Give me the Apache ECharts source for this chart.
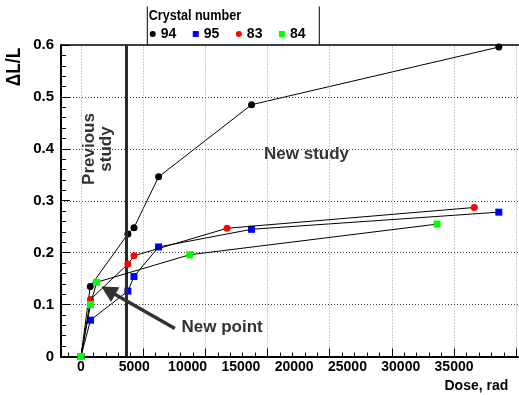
<!DOCTYPE html>
<html>
<head>
<meta charset="utf-8">
<script src="https://cdn.jsdelivr.net/npm/echarts@6/dist/echarts.min.js"></script>
<style>
html,body{margin:0;padding:0;background:#fff;}
#chart{width:519px;height:395px;}
</style>
</head>
<body>
<div id="chart"></div>
<script>
// ---- data ----
const crystals = ['94', '95', '83', '84'];
const dose94 = [0, 870, 4400, 4970, 7280, 16000, 39200];
const dl94   = [0, 0.135, 0.236, 0.248, 0.346, 0.485, 0.596];
const dose95 = [0, 890, 4400, 4970, 7280, 16000, 39200];
const dl95   = [0, 0.070, 0.126, 0.154, 0.211, 0.245, 0.278];
const dose83 = [0, 890, 4400, 4970, 13700, 36900];
const dl83   = [0, 0.110, 0.178, 0.194, 0.247, 0.287];
const dose84 = [0, 890, 1470, 10200, 33400];
const dl84   = [0, 0.100, 0.143, 0.196, 0.255];
const previousStudyDose = 4220;
const arrowTail = [8810, 0.054];
const arrowHead = [2560, 0.127];
// axis scales / ticks
const xLabelStep = 5000, xLabelMax = 35000;
const yTickStep = 0.1, yMin = 0, yMax = 0.6;
const yMinorPerMajor = 5;
const xMin = -1875, xMax = 41000;
const xGridStep = 35000 / 6;        // primary divisions of the frame (grid + long ticks)
const xMinorPerMajor = 5;
const xGridCount = 7;

// ---- layout ----
const FRAME = { left: 61, top: 45, right: 518, bottom: 356.5 };
const plotW = FRAME.right - FRAME.left, plotH = FRAME.bottom - FRAME.top;
const pxPerUnit = plotW / (xMax - xMin);
const xPx = v => FRAME.left + (v - xMin) * pxPerUnit;
const xUnitsPerPx = (xMax - xMin) / plotW;
const yUnitsPerPx = (yMax - yMin) / plotH;
const FONT = '"Liberation Sans", Arial, Helvetica, sans-serif';
const FONT_NAME = 'Liberation Sans';

function gridFor(v0, v1) {
  return { left: xPx(v0), top: FRAME.top, width: xPx(v1) - xPx(v0),
           height: FRAME.bottom - FRAME.top, containLabel: false, outerBoundsMode: 'none' };
}
const pairs = (xs, ys) => xs.map((x, i) => [x, ys[i]]);
const off = () => ({ show: false });

const seriesDefs = [
  { name: crystals[0], xs: dose94, ys: dl94, symbol: 'circle', color: '#000000' },
  { name: crystals[1], xs: dose95, ys: dl95, symbol: 'rect',   color: '#0000ff' },
  { name: crystals[2], xs: dose83, ys: dl83, symbol: 'circle', color: '#ff0000' },
  { name: crystals[3], xs: dose84, ys: dl84, symbol: 'rect',   color: '#00ff00' }
];

// ---- frame decorations: grid lines and inward ticks, positioned in data units ----
const solid = (w) => ({ color: '#000', width: w, type: 'solid' });
const frameLines = [];
const xTickLen = (px) => px * yUnitsPerPx;
const yTickLen = (px) => px * xUnitsPerPx;
for (let k = 0; k <= xGridCount; k++) {
  const v = k * xGridStep;
  frameLines.push({ xAxis: v, lineStyle: { color: '#9a9a9a', width: 1, type: [1, 2] } });
  frameLines.push([{ coord: [v, yMin], lineStyle: solid(1) }, { coord: [v, yMin + xTickLen(8)] }]);
}
for (let k = -1; k < xGridCount * xMinorPerMajor; k++) {
  if (k % xMinorPerMajor === 0) continue;
  const v = k * xGridStep / xMinorPerMajor;
  if (v < xMin || v > xMax) continue;
  frameLines.push([{ coord: [v, yMin], lineStyle: solid(1) }, { coord: [v, yMin + xTickLen(4)] }]);
}
const yMajors = Math.round((yMax - yMin) / yTickStep);
for (let k = 0; k <= yMajors; k++) {
  const v = +(yMin + k * yTickStep).toFixed(6);
  if (k > 0 && k < yMajors) frameLines.push({ yAxis: v, lineStyle: { color: '#444', width: 1, type: [1, 2] } });
  frameLines.push([{ coord: [xMin, v], lineStyle: solid(1) }, { coord: [xMin + yTickLen(9), v] }]);
  if (k < yMajors) {
    for (let m = 1; m < yMinorPerMajor; m++) {
      const mv = v + m * yTickStep / yMinorPerMajor;
      frameLines.push([{ coord: [xMin, mv], lineStyle: solid(1) }, { coord: [xMin + yTickLen(5), mv] }]);
    }
  }
}

const frameSeries = {
  type: 'line', name: 'frame', xAxisIndex: 0, yAxisIndex: 0,
  data: [[xMin, yMin]], symbol: 'none', showSymbol: false,
  lineStyle: { width: 0, opacity: 0 }, silent: true, z: 1,
  emphasis: { disabled: true },
  markLine: { silent: true, symbol: 'none', animation: false, label: { show: false },
              emphasis: { disabled: true }, data: frameLines }
};

const series = seriesDefs.map((s, i) => ({
  type: 'line', name: s.name, xAxisIndex: 0, yAxisIndex: 0,
  data: pairs(s.xs, s.ys),
  symbol: s.symbol, symbolSize: 7, showAllSymbol: true,
  lineStyle: { color: '#000', width: 1 },
  itemStyle: { color: s.color, borderWidth: 0 },
  emphasis: { disabled: true }, silent: true, z: 3 + i
}));
series[0].markLine = {
  silent: true, symbol: 'none', animation: false, label: { show: false },
  emphasis: { disabled: true },
  data: [
    { xAxis: previousStudyDose, lineStyle: { color: '#2a2a2a', width: 3, type: 'solid' } },
    [
      { coord: arrowTail, symbol: 'none', lineStyle: { color: '#333', width: 3.5, type: 'solid' } },
      { coord: arrowHead, symbol: 'triangle', symbolSize: [17, 16], itemStyle: { color: '#333' },
        lineStyle: { color: '#333', width: 3.5, type: 'solid' } }
    ]
  ]
};

const option = {
  animation: false,
  backgroundColor: '#ffffff',
  grid: [gridFor(xMin, xMax), gridFor(0, xLabelMax)],
  xAxis: [
    { gridIndex: 0, type: 'value', min: xMin, max: xMax,
      axisLine: { show: true, onZero: false, lineStyle: { color: '#000', width: 2 } },
      axisTick: off(), axisLabel: off(), splitLine: off(), minorTick: off() },
    { gridIndex: 1, type: 'value', min: 0, max: xLabelMax, interval: xLabelStep,
      axisLine: { show: false, onZero: false }, axisTick: off(), splitLine: off(),
      axisLabel: { show: true, margin: 4, fontSize: 14, fontWeight: 'bold', color: '#000',
                   fontFamily: FONT_NAME, formatter: v => String(Math.round(v)) } }
  ],
  yAxis: [
    { gridIndex: 0, type: 'value', min: yMin, max: yMax, interval: yTickStep,
      axisLine: { show: true, onZero: false, lineStyle: { color: '#000', width: 2 } },
      axisTick: off(), minorTick: off(), splitLine: off(),
      axisLabel: { show: true, margin: 7, fontSize: 15, fontWeight: 'bold', color: '#000', fontFamily: FONT_NAME,
                   formatter: v => (v === 0 ? '0' : v.toFixed(1)) } },
    { gridIndex: 1, type: 'value', show: false, min: 0, max: 1 }
  ],
  legend: {
    left: 149.7, top: 27, padding: 0, itemWidth: 6, itemHeight: 6, itemGap: 16.5,
    selectedMode: false,
    textStyle: { fontSize: 14, fontWeight: 'bold', color: '#000', fontFamily: FONT_NAME },
    itemStyle: { borderWidth: 0 },
    data: seriesDefs.map(s => ({ name: s.name, icon: s.symbol === 'rect' ? 'rect' : 'circle' }))
  },
  graphic: [
    { type: 'line', shape: { x1: FRAME.left, y1: FRAME.top, x2: FRAME.right + 1, y2: FRAME.top },
      style: { stroke: '#000', lineWidth: 1.5 }, silent: true },
    { type: 'line', shape: { x1: 147.3, y1: 6.5, x2: 147.3, y2: 45 }, style: { stroke: '#000', lineWidth: 1 }, silent: true },
    { type: 'line', shape: { x1: 319.3, y1: 6.5, x2: 319.3, y2: 45 }, style: { stroke: '#000', lineWidth: 1 }, silent: true },
    { type: 'text', x: 148.7, y: 16, scaleX: 0.9, silent: true,
      style: { text: 'Crystal number', font: 'bold 14px ' + FONT, fill: '#000',
               align: 'left', textAlign: 'left', verticalAlign: 'middle', textVerticalAlign: 'middle' } },
    { type: 'text', x: 264, y: 154.5, silent: true,
      style: { text: 'New study', font: 'bold 17px ' + FONT, fill: '#333',
               align: 'left', textAlign: 'left', verticalAlign: 'middle', textVerticalAlign: 'middle' } },
    { type: 'text', x: 181.5, y: 327.5, silent: true,
      style: { text: 'New point', font: 'bold 17px ' + FONT, fill: '#333',
               align: 'left', textAlign: 'left', verticalAlign: 'middle', textVerticalAlign: 'middle' } },
    { type: 'text', x: 98, y: 149, rotation: Math.PI / 2, silent: true,
      style: { text: 'Previous\nstudy', font: 'bold 17px ' + FONT, fill: '#333', lineHeight: 17,
               align: 'center', textAlign: 'center', verticalAlign: 'middle', textVerticalAlign: 'middle' } },
    { type: 'text', x: 14.5, y: 67, rotation: Math.PI / 2, scaleX: 0.87, silent: true,
      style: { text: '\u0394L/L', font: 'bold 20px ' + FONT, fill: '#000',
               align: 'center', textAlign: 'center', verticalAlign: 'middle', textVerticalAlign: 'middle' } },
    { type: 'text', x: 508.3, y: 386, silent: true,
      style: { text: 'Dose, rad', font: 'bold 14px ' + FONT, fill: '#000',
               align: 'right', textAlign: 'right', verticalAlign: 'middle', textVerticalAlign: 'middle' } }
  ],
  series: [frameSeries].concat(series)
};

const chart = echarts.init(document.getElementById('chart'), null, { renderer: 'canvas', width: 519, height: 395 });
chart.setOption(option);
</script>
</body>
</html>
